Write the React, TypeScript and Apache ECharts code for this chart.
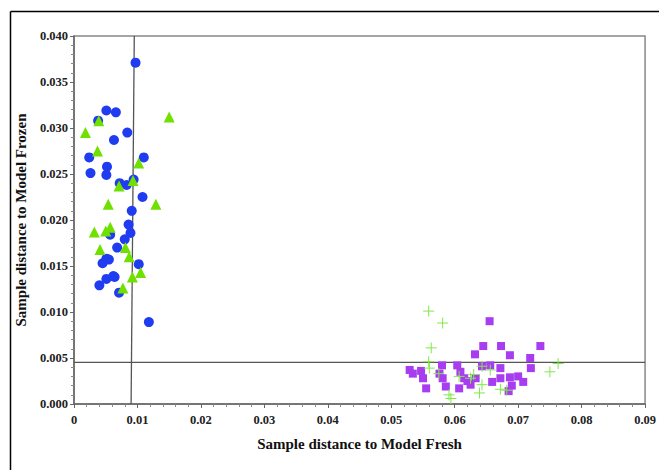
import React, { useEffect, useRef } from "react";
import * as echarts from "echarts";

const xTicks = [0, 0.01, 0.02, 0.03, 0.04, 0.05, 0.06, 0.07, 0.08, 0.09];
const yTicks = [0, 0.005, 0.01, 0.015, 0.02, 0.025, 0.03, 0.035, 0.04];

const frozenCircles: [number, number][] = [
  [0.0097, 0.0371], [0.0051, 0.0319], [0.0066, 0.0317], [0.0038, 0.0308], [0.0084, 0.0295],
  [0.0063, 0.0287], [0.0024, 0.0268], [0.011, 0.0268], [0.0026, 0.0251], [0.0052, 0.0258],
  [0.0051, 0.0249], [0.0072, 0.024], [0.0083, 0.0238], [0.0094, 0.0244], [0.0108, 0.0225],
  [0.0091, 0.021], [0.0086, 0.0195], [0.0089, 0.0186], [0.0057, 0.0184], [0.008, 0.0179],
  [0.0068, 0.017], [0.0051, 0.0158], [0.0045, 0.0153], [0.0055, 0.0157], [0.0102, 0.0152],
  [0.0062, 0.0139], [0.0051, 0.0136], [0.0064, 0.0138], [0.004, 0.0129], [0.0071, 0.0121],
  [0.0118, 0.0089],
];

const frozenTriangles: [number, number][] = [
  [0.0039, 0.0308], [0.0018, 0.0295], [0.0037, 0.0275], [0.015, 0.0312], [0.0102, 0.0262],
  [0.0071, 0.0237], [0.0093, 0.0243], [0.0054, 0.0217], [0.0129, 0.0217], [0.0032, 0.0187],
  [0.005, 0.0188], [0.0057, 0.0192], [0.0041, 0.0168], [0.0081, 0.017], [0.0087, 0.016],
  [0.0105, 0.0143], [0.0092, 0.0138], [0.0077, 0.0126],
];

const freshSquares: [number, number][] = [
  [0.0655, 0.009], [0.0645, 0.0063], [0.0673, 0.0063], [0.0735, 0.0063], [0.0632, 0.0054],
  [0.0687, 0.0053], [0.0719, 0.005], [0.058, 0.0042], [0.0604, 0.0042], [0.0656, 0.0042],
  [0.0643, 0.0041], [0.072, 0.0039], [0.0672, 0.0039], [0.0529, 0.0037], [0.0534, 0.0033],
  [0.0547, 0.0036], [0.055, 0.0028], [0.0555, 0.0017], [0.0576, 0.0033], [0.0581, 0.0028],
  [0.0586, 0.0019], [0.0609, 0.0035], [0.0615, 0.0028], [0.0607, 0.0017], [0.0625, 0.0021],
  [0.0633, 0.0028], [0.0659, 0.0024], [0.0672, 0.0028], [0.0687, 0.0029], [0.069, 0.002],
  [0.07, 0.003], [0.0708, 0.0024], [0.0685, 0.0014], [0.062, 0.0025],
];

const freshCrosses: [number, number][] = [
  [0.0559, 0.0101], [0.0581, 0.0088], [0.0563, 0.0061], [0.0559, 0.0046], [0.056, 0.0039],
  [0.0575, 0.0033], [0.0607, 0.003], [0.0625, 0.0028], [0.063, 0.0032], [0.0643, 0.0021],
  [0.0639, 0.0012], [0.0591, 0.001], [0.0594, 0.0006], [0.0672, 0.0016], [0.0682, 0.0015],
  [0.0643, 0.0041], [0.075, 0.0035], [0.0763, 0.0044], [0.0656, 0.0037],
];

const thresholdFresh: [number, number][] = [[0.0095, 0.04], [0.009, 0]];
const thresholdFrozen: [number, number][] = [[0, 0.00453], [0.09, 0.00453]];

const FONT = "'Liberation Serif', 'Times New Roman', serif";

export default function App() {
  const ref = useRef<HTMLDivElement>(null);
  useEffect(() => {
    if (!ref.current) return;
    const chart = echarts.init(ref.current, null, { renderer: "svg" });
    const labelStyle = { fontFamily: FONT, fontWeight: "bold" as const, fontSize: 12.5, color: "#222" };
    const refLine = (data: [number, number][]) => ({
      type: "line",
      data,
      symbol: "none",
      silent: true,
      z: 1,
      lineStyle: { color: "#555", width: 1.3 },
    });
    chart.setOption({
      animation: false,
      backgroundColor: "#fff",
      graphic: [
        { type: "line", shape: { x1: 10.5, y1: 11.5, x2: 10.5, y2: 470 }, style: { stroke: "#000", lineWidth: 1.5 } },
        { type: "line", shape: { x1: 10.5, y1: 11.5, x2: 659, y2: 11.5 }, style: { stroke: "#000", lineWidth: 1.5 } },
      ],
      grid: { left: 74, right: 8, top: 36, bottom: 66, show: true, borderColor: "#888", borderWidth: 1.5 },
      xAxis: {
        type: "value",
        min: xTicks[0],
        max: xTicks[xTicks.length - 1],
        interval: 0.01,
        name: "Sample distance to Model Fresh",
        nameLocation: "middle",
        nameGap: 32,
        nameTextStyle: { fontFamily: FONT, fontWeight: "bold", fontSize: 15, color: "#111" },
        axisLine: { show: true, lineStyle: { color: "#666", width: 1.5 } },
        axisTick: { show: true, length: 4, lineStyle: { color: "#666" } },
        minorTick: { show: true, splitNumber: 5, length: 3, lineStyle: { color: "#888" } },
        splitLine: { show: false },
        axisLabel: {
          ...labelStyle,
          margin: 9,
          formatter: (v: number) => (v === 0 ? "0" : v.toFixed(2)),
        },
      },
      yAxis: {
        type: "value",
        min: yTicks[0],
        max: yTicks[yTicks.length - 1],
        interval: 0.005,
        name: "Sample distance to Model Frozen",
        nameLocation: "middle",
        nameGap: 45,
        nameTextStyle: { fontFamily: FONT, fontWeight: "bold", fontSize: 15, color: "#111" },
        axisLine: { show: true, lineStyle: { color: "#666", width: 1.5 } },
        axisTick: { show: true, length: 4, lineStyle: { color: "#666" } },
        minorTick: { show: true, splitNumber: 5, length: 3, lineStyle: { color: "#888" } },
        splitLine: { show: false },
        axisLabel: { ...labelStyle, margin: 6, formatter: (v: number) => v.toFixed(3) },
      },
      series: [
        refLine(thresholdFresh),
        refLine(thresholdFrozen),
        {
          type: "scatter",
          name: "Frozen A",
          data: frozenCircles,
          symbol: "circle",
          symbolSize: 10,
          z: 2,
          itemStyle: { color: "#1f3cf0", opacity: 1 },
        },
        {
          type: "scatter",
          name: "Frozen B",
          data: frozenTriangles,
          symbol: "triangle",
          symbolSize: 11,
          z: 3,
          itemStyle: { color: "#6fe000", opacity: 1 },
        },
        {
          type: "scatter",
          name: "Fresh A",
          data: freshSquares,
          symbol: "rect",
          symbolSize: 8,
          z: 2,
          itemStyle: { color: "#a83cf0", opacity: 1 },
        },
        {
          type: "scatter",
          name: "Fresh B",
          data: freshCrosses,
          symbol: "path://M5 0L5 10M0 5L10 5",
          symbolSize: 11,
          z: 3,
          itemStyle: { color: "none", borderColor: "#80e84a", borderWidth: 1, opacity: 1 },
        },
      ],
    });
    return () => chart.dispose();
  }, []);
  return (
    <div
      ref={ref}
      style={{ position: "fixed", left: 0, top: 0, width: 659, height: 470, background: "#fff" }}
    />
  );
}
